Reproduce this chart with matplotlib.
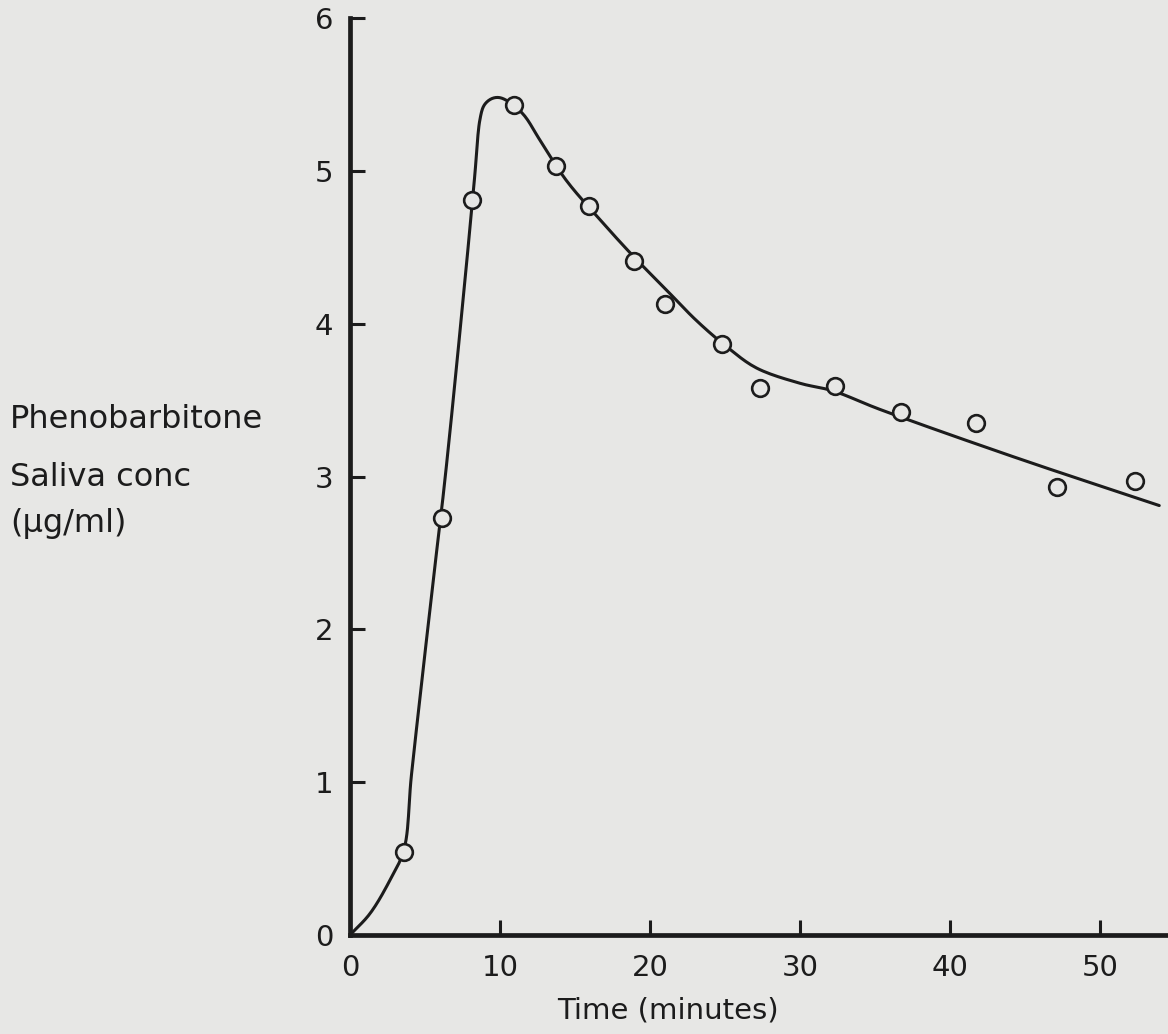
import numpy as np
import matplotlib
matplotlib.use("Agg")
import matplotlib.pyplot as plt

# measured saliva levels
time_min = [3.6, 6.1, 8.15, 10.9, 13.7, 15.9, 18.9, 21.0, 24.8, 27.3, 32.3, 36.7, 41.7, 47.1, 52.3]
conc = [0.54, 2.73, 4.81, 5.43, 5.03, 4.77, 4.41, 4.13, 3.87, 3.58, 3.59, 3.42, 3.35, 2.93, 2.97]

# hand-fitted curve through the points
curve_t = [0, 1.33, 2.67, 3.6, 4.1, 5.55, 6.33, 7.67, 8.3, 8.67, 8.95, 9.4, 9.89, 10.45,
           11.55, 12.67, 14.4, 16.67, 18.9, 21.1, 23.1, 25.1, 27.1, 30.0, 32.2, 35.3, 44.2, 53.95]
curve_c = [0, 0.14, 0.36, 0.56, 1.05, 2.32, 2.98, 4.29, 4.95, 5.34, 5.43, 5.47, 5.48, 5.46,
           5.37, 5.20, 4.94, 4.68, 4.44, 4.22, 4.02, 3.85, 3.71, 3.61, 3.56, 3.44, 3.13, 2.81]

x_ticks = [0, 10, 20, 30, 40, 50]
y_ticks = [0, 1, 2, 3, 4, 5, 6]

paper = "#e7e7e5"
ink = "#1c1c1c"


def smooth(xs, ys, n=12):
    # centripetal catmull-rom through the knots, just for a rounder line
    p = np.column_stack([xs, ys]).astype(float)
    p = np.vstack([2 * p[0] - p[1], p, 2 * p[-1] - p[-2]])
    out = []
    for i in range(1, len(p) - 2):
        p0, p1, p2, p3 = p[i - 1], p[i], p[i + 1], p[i + 2]
        t0 = 0.0
        t1 = t0 + np.linalg.norm(p1 - p0) ** 0.5
        t2 = t1 + np.linalg.norm(p2 - p1) ** 0.5
        t3 = t2 + np.linalg.norm(p3 - p2) ** 0.5
        t = np.linspace(t1, t2, n, endpoint=False)[:, None]
        a1 = (t1 - t) / (t1 - t0) * p0 + (t - t0) / (t1 - t0) * p1
        a2 = (t2 - t) / (t2 - t1) * p1 + (t - t1) / (t2 - t1) * p2
        a3 = (t3 - t) / (t3 - t2) * p2 + (t - t2) / (t3 - t2) * p3
        b1 = (t2 - t) / (t2 - t0) * a1 + (t - t0) / (t2 - t0) * a2
        b2 = (t3 - t) / (t3 - t1) * a2 + (t - t1) / (t3 - t1) * a3
        out.append((t2 - t) / (t2 - t1) * b1 + (t - t1) / (t2 - t1) * b2)
    out.append(p[-2][None, :])
    out = np.vstack(out)
    return out[:, 0], out[:, 1]


fig = plt.figure(figsize=(11.68, 10.34), dpi=100, facecolor=paper)
W, H = 1168, 1034
ax = fig.add_axes([350 / W, 99 / H, (W - 350) / W, 917 / H])
ax.set_facecolor(paper)

# scale the time axis so the units match in pixels on both axes
sx, sy = smooth(np.array(curve_t) * 15.0, np.array(curve_c) * 152.8)
ax.plot(sx / 15.0, sy / 152.8, color=ink, lw=2.2, solid_joinstyle="round",
        solid_capstyle="round", zorder=2)
ax.plot(time_min, conc, "o", ms=12, mfc=paper, mec=ink, mew=1.9, zorder=3,
        clip_on=False)

ax.set_xlim(0, (W - 350) / 15.0)
ax.set_ylim(0, 6)

for s in ["top", "right"]:
    ax.spines[s].set_visible(False)
for s in ["left", "bottom"]:
    ax.spines[s].set_linewidth(3.4)
    ax.spines[s].set_color(ink)

ax.set_xticks(x_ticks)
ax.set_yticks(y_ticks)
ax.set_xticklabels([str(v) for v in x_ticks])
ax.set_yticklabels([str(v) for v in y_ticks])
ax.tick_params(axis="both", direction="in", length=11, width=2.2, color=ink,
               labelsize=21, labelcolor=ink)
ax.tick_params(axis="x", pad=14)
ax.tick_params(axis="y", pad=12)

fig.text(668 / W, 1 - 1010 / H, "Time (minutes)", ha="center", va="center",
         fontsize=21, color=ink)
fig.text(10 / W, 1 - 428 / H, "Phenobarbitone", ha="left", va="baseline",
         fontsize=23, color=ink)
fig.text(10 / W, 1 - 486 / H, "Saliva conc", ha="left", va="baseline",
         fontsize=23, color=ink)
fig.text(10 / W, 1 - 532 / H, "(\u00b5g/ml)", ha="left", va="baseline",
         fontsize=23, color=ink)

fig.savefig("out.png", dpi=100, facecolor=paper)
